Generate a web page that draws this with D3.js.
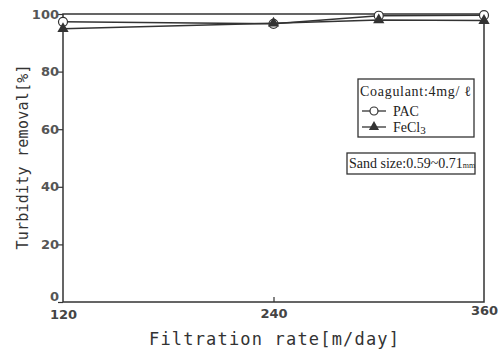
<!DOCTYPE html>
<html>
<head>
<meta charset="utf-8">
<script src="https://cdn.jsdelivr.net/npm/d3@7"></script>
<style>
  body { margin: 0; background: #fff; }
  svg { display: block; }
</style>
</head>
<body>
<svg></svg>
<script>
// data
const rates = [120, 240, 300, 360];
const pacValues = [97.3, 96.6, 99.4, 99.6];
const fecl3Values = [94.9, 96.8, 97.9, 97.7];
const xTicks = [120, 240, 360];
const yTicks = [0, 20, 40, 60, 80, 100];

const width = 498;
const height = 350;
const plotLeft = 63, plotRight = 484, plotTop = 14, plotBottom = 302;
const ink = "#333";

let svg = d3.select("svg")
  .attr("width", width)
  .attr("height", height);

let scX = d3.scaleLinear().domain([120, 360]).range([plotLeft, plotRight]);
let scY = d3.scaleLinear().domain([0, 100]).range([plotBottom, plotTop]);

// рамка графика
svg.append("rect")
  .attr("x", plotLeft).attr("y", plotTop)
  .attr("width", plotRight - plotLeft).attr("height", plotBottom - plotTop)
  .attr("fill", "none").attr("stroke", ink).attr("stroke-width", 1.5);

// ось Y: короткие засечки наружу
let axisY = d3.axisLeft(scY).tickValues(yTicks).tickSize(5).tickFormat(d => d);
let gy = svg.append("g").attr("transform", `translate(${plotLeft},0)`).call(axisY);
gy.select(".domain").remove();
gy.selectAll("line").attr("stroke", ink).attr("stroke-width", 1.2);
gy.selectAll("text")
  .attr("fill", "#555")
  .style("font-family", "'DejaVu Sans', sans-serif")
  .style("font-size", "13px")
  .style("font-weight", "600")
  .attr("x", -4)
  .attr("dy", d => d === 0 ? "-0.1em" : "0.32em");

// ось X: засечка внутрь
let axisX = d3.axisBottom(scX).tickValues(xTicks).tickSize(0).tickFormat(d => d);
let gx = svg.append("g").attr("transform", `translate(0,${plotBottom})`).call(axisX);
gx.select(".domain").remove();
gx.selectAll("text")
  .attr("fill", "#444")
  .style("font-family", "'DejaVu Sans', sans-serif")
  .style("font-size", "13px")
  .style("font-weight", "600")
  .attr("y", d => d === 240 ? 7 : (d === 120 ? 8 : 4));
gx.selectAll(".tick").filter(d => d === 240).append("line")
  .attr("y1", 0).attr("y2", -5).attr("stroke", ink).attr("stroke-width", 1.2);

// подписи осей
svg.append("text")
  .attr("x", 274).attr("y", 345)
  .attr("text-anchor", "middle")
  .attr("fill", "#333")
  .style("font-family", "'DejaVu Sans Mono', monospace")
  .style("font-size", "17px")
  .attr("textLength", 250)
  .text("Filtration rate[m/day]");

svg.append("text")
  .attr("transform", `translate(28, 157) rotate(-90)`)
  .attr("text-anchor", "middle")
  .attr("fill", "#333")
  .style("font-family", "'DejaVu Sans Mono', monospace")
  .style("font-size", "15px")
  .attr("textLength", 185)
  .text("Turbidity removal[%]");

// линии серий
let line = d3.line().x((d, i) => scX(rates[i])).y(d => scY(d));

function drawSeries(values, marker) {
  svg.append("path")
    .datum(values)
    .attr("d", line)
    .attr("fill", "none")
    .attr("stroke", ink)
    .attr("stroke-width", 1.5);
  values.forEach((v, i) => drawMarker(scX(rates[i]), scY(v), marker));
}

function drawMarker(x, y, marker) {
  if (marker === "circle") {
    svg.append("circle")
      .attr("cx", x).attr("cy", y).attr("r", 4.5)
      .attr("fill", "#fff").attr("stroke", ink).attr("stroke-width", 1.2);
  } else {
    svg.append("path")
      .attr("d", d3.symbol(d3.symbolTriangle, 55)())
      .attr("transform", `translate(${x},${y})`)
      .attr("fill", ink);
  }
}

drawSeries(pacValues, "circle");
drawSeries(fecl3Values, "triangle");

// легенда
const serif = "'Liberation Serif', 'DejaVu Serif', serif";
let lg = svg.append("g").attr("transform", "translate(358,79)");
lg.append("rect")
  .attr("width", 116).attr("height", 58)
  .attr("fill", "#fff").attr("stroke", ink).attr("stroke-width", 1.3);
lg.append("text").attr("x", 2).attr("y", 17)
  .style("font-family", serif).style("font-size", "14px").attr("fill", "#222")
  .attr("textLength", 111)
  .text("Coagulant:4mg/ ℓ");

[["PAC", "circle"], ["FeCl3", "triangle"]].forEach(([name, marker], i) => {
  let yy = 79 + 32 + i * 16;
  svg.append("line")
    .attr("x1", 362).attr("x2", 386).attr("y1", yy).attr("y2", yy)
    .attr("stroke", ink).attr("stroke-width", 1.3);
  if (marker === "circle") {
    svg.append("circle").attr("cx", 374).attr("cy", yy).attr("r", 4)
      .attr("fill", "#fff").attr("stroke", ink).attr("stroke-width", 1.2);
  } else {
    svg.append("path").attr("d", d3.symbol(d3.symbolTriangle, 45)())
      .attr("transform", `translate(374,${yy})`).attr("fill", ink);
  }
  let t = svg.append("text").attr("x", 393).attr("y", yy + 5)
    .style("font-family", serif).style("font-size", "14px").attr("fill", "#222");
  if (name === "FeCl3") {
    t.text("FeCl");
    t.append("tspan").attr("font-size", "11px").attr("dy", 2).text("3");
  } else {
    t.text(name);
  }
});

// размер песка
let sb = svg.append("g").attr("transform", "translate(347,153)");
sb.append("rect")
  .attr("width", 128).attr("height", 21)
  .attr("fill", "#fff").attr("stroke", ink).attr("stroke-width", 1.3);
let st = sb.append("text").attr("x", 2).attr("y", 15)
  .style("font-family", serif).style("font-size", "14px").attr("fill", "#222")
  .text("Sand size:0.59~0.71");
st.append("tspan").attr("font-size", "8px").text("mm");
</script>
</body>
</html>
